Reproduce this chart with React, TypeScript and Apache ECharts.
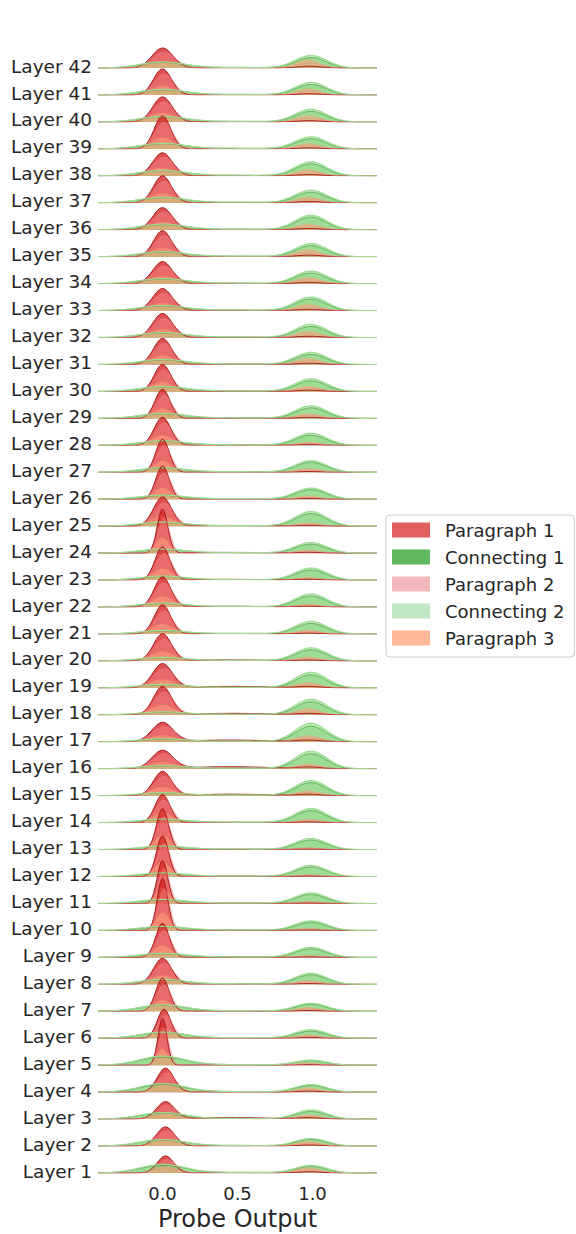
import React, { useEffect, useRef } from "react";
import * as echarts from "echarts";

// ---------- data (Layer 1 ... Layer 42), densities ----------
const layerNames = [
  "Layer 1", "Layer 2", "Layer 3", "Layer 4", "Layer 5", "Layer 6", "Layer 7",
  "Layer 8", "Layer 9", "Layer 10", "Layer 11", "Layer 12", "Layer 13", "Layer 14",
  "Layer 15", "Layer 16", "Layer 17", "Layer 18", "Layer 19", "Layer 20", "Layer 21",
  "Layer 22", "Layer 23", "Layer 24", "Layer 25", "Layer 26", "Layer 27", "Layer 28",
  "Layer 29", "Layer 30", "Layer 31", "Layer 32", "Layer 33", "Layer 34", "Layer 35",
  "Layer 36", "Layer 37", "Layer 38", "Layer 39", "Layer 40", "Layer 41", "Layer 42",
];
const seriesNames = ["Paragraph 1", "Connecting 1", "Paragraph 2", "Connecting 2", "Paragraph 3"];
const xTicks = [0, 0.5, 1.0];
const xTitle = "Probe Output";

// peak near 0.0
const para1Peak = [3.4, 3.8, 3.4, 4.8, 9.4, 5.8, 6.6, 5.2, 6.8, 10.4, 8.6, 8.2, 8.2, 5.6, 4.8, 3.6, 3.8, 5.6, 4.8, 5.4, 5.8, 6.0, 6.6, 8.8, 5.8, 6.6, 6.6, 5.6, 5.8, 5.4, 5.2, 4.8, 4.4, 4.4, 5.2, 4.4, 5.4, 4.6, 6.6, 5.0, 5.2, 4.0];
const para1Width = [0.055, 0.06, 0.06, 0.055, 0.03, 0.045, 0.045, 0.06, 0.045, 0.035, 0.035, 0.04, 0.04, 0.05, 0.06, 0.07, 0.07, 0.06, 0.065, 0.06, 0.055, 0.055, 0.05, 0.035, 0.06, 0.045, 0.045, 0.055, 0.05, 0.055, 0.06, 0.065, 0.065, 0.065, 0.06, 0.065, 0.06, 0.065, 0.055, 0.065, 0.06, 0.07];
const para1Center = [0.02, 0.02, 0.02, 0.02, 0.0, 0.01, 0.0, 0.0, 0.0, 0.0, 0.0, 0.0, 0.0, 0.0, 0.0, 0.0, 0.0, 0.0, 0.0, 0.0, 0.0, 0.0, 0.0, 0.0, 0.0, 0.0, 0.0, 0.0, 0.0, 0.0, 0.0, 0.0, 0.0, 0.0, 0.0, 0.0, 0.0, 0.0, 0.0, 0.0, 0.0, 0.0];
const para2Peak = [2.7, 3.0, 2.7, 3.8, 7.5, 4.6, 5.3, 4.2, 5.4, 8.3, 6.9, 6.6, 6.6, 4.5, 3.8, 2.9, 3.0, 4.5, 3.8, 4.3, 4.6, 4.8, 5.3, 7.0, 4.6, 5.3, 5.3, 4.5, 4.6, 4.3, 4.2, 3.8, 3.5, 3.5, 4.2, 3.5, 4.3, 3.7, 5.3, 4.0, 4.2, 3.2];
const para3Peak = [1.2, 1.3, 1.2, 1.7, 3.3, 2.0, 2.3, 1.8, 2.4, 3.6, 3.0, 2.9, 2.9, 2.0, 1.7, 1.3, 1.3, 2.0, 1.7, 1.9, 2.0, 2.1, 2.3, 3.1, 2.0, 2.3, 2.3, 2.0, 2.0, 1.9, 1.8, 1.7, 1.5, 1.5, 1.8, 1.5, 1.9, 1.6, 2.3, 1.8, 1.8, 1.4];
const conn1At0 = [1.5, 1.2, 1.2, 1.5, 1.6, 1.1, 1.2, 0.9, 0.7, 0.7, 0.7, 0.6, 0.6, 0.6, 0.5, 0.5, 0.5, 0.5, 0.6, 0.6, 0.6, 0.7, 0.7, 0.7, 0.7, 0.7, 0.8, 0.8, 0.9, 0.9, 0.9, 0.9, 0.9, 0.9, 0.9, 1.0, 1.0, 1.0, 1.0, 1.0, 1.0, 1.1];
const conn2At0 = [1.7, 1.3, 1.3, 1.7, 1.8, 1.2, 1.3, 1.0, 0.8, 0.8, 0.8, 0.7, 0.7, 0.7, 0.6, 0.6, 0.6, 0.6, 0.7, 0.7, 0.7, 0.8, 0.8, 0.8, 0.8, 0.8, 0.9, 0.9, 1.0, 1.0, 1.0, 1.0, 1.0, 1.0, 1.0, 1.1, 1.1, 1.1, 1.1, 1.1, 1.1, 1.2];

// peak near 1.0
const conn1At1 = [1.3, 1.3, 1.5, 1.3, 0.9, 1.4, 1.4, 1.9, 1.7, 1.6, 1.8, 1.9, 1.9, 2.4, 2.6, 3.0, 3.1, 2.6, 2.6, 2.2, 2.1, 2.2, 2.0, 1.8, 2.5, 1.9, 2.0, 2.0, 2.1, 2.1, 2.0, 2.2, 2.3, 2.1, 2.2, 2.5, 2.1, 2.4, 2.0, 2.1, 2.1, 2.1];
const conn2At1 = [1.5, 1.5, 1.8, 1.5, 1.0, 1.7, 1.6, 2.2, 2.0, 1.9, 2.1, 2.2, 2.2, 2.8, 3.0, 3.5, 3.7, 3.1, 3.1, 2.6, 2.5, 2.6, 2.4, 2.1, 2.9, 2.2, 2.3, 2.4, 2.5, 2.5, 2.4, 2.6, 2.7, 2.5, 2.6, 2.9, 2.5, 2.8, 2.4, 2.5, 2.5, 2.5];
const para1At1 = [0.25, 0.2, 0.25, 0.2, 0.1, 0.15, 0.15, 0.15, 0.1, 0.1, 0.1, 0.1, 0.1, 0.15, 0.25, 0.3, 0.3, 0.25, 0.25, 0.15, 0.15, 0.15, 0.15, 0.15, 0.15, 0.15, 0.15, 0.15, 0.2, 0.25, 0.25, 0.25, 0.25, 0.25, 0.3, 0.25, 0.25, 0.25, 0.2, 0.25, 0.25, 0.35];
const para2At1 = [0.7, 0.6, 0.6, 0.5, 0.3, 0.4, 0.5, 0.5, 0.3, 0.3, 0.3, 0.3, 0.3, 0.4, 0.6, 0.6, 0.8, 0.8, 0.7, 0.5, 0.5, 0.4, 0.4, 0.4, 0.4, 0.4, 0.5, 0.4, 0.6, 0.7, 0.8, 0.8, 0.8, 0.8, 0.9, 0.7, 0.7, 0.8, 0.7, 0.8, 0.8, 1.0];
const para3At1 = [1.1, 1.0, 0.9, 0.9, 0.5, 0.7, 0.8, 0.8, 0.4, 0.4, 0.4, 0.4, 0.4, 0.7, 1.0, 1.0, 1.3, 1.3, 1.1, 0.8, 0.8, 0.6, 0.6, 0.6, 0.7, 0.7, 0.8, 0.7, 1.0, 1.1, 1.3, 1.3, 1.3, 1.3, 1.5, 1.2, 1.2, 1.3, 1.1, 1.3, 1.3, 1.7];

// low plateau between the peaks
const para1Tail = [0.05, 0.05, 0.3, 0.05, 0.05, 0.05, 0.05, 0.05, 0.05, 0.05, 0.05, 0.05, 0.05, 0.05, 0.3, 0.4, 0.35, 0.3, 0.3, 0.2, 0.1, 0.15, 0.15, 0.15, 0.15, 0.05, 0.05, 0.05, 0.05, 0.05, 0.05, 0.05, 0.05, 0.05, 0.05, 0.05, 0.05, 0.05, 0.05, 0.05, 0.05, 0.05];
const connMid = [0.12, 0.12, 0.12, 0.12, 0.12, 0.12, 0.12, 0.12, 0.12, 0.12, 0.12, 0.12, 0.12, 0.12, 0.12, 0.12, 0.12, 0.12, 0.12, 0.12, 0.12, 0.12, 0.12, 0.12, 0.12, 0.12, 0.12, 0.12, 0.12, 0.12, 0.12, 0.12, 0.12, 0.12, 0.12, 0.12, 0.12, 0.12, 0.12, 0.12, 0.12, 0.12];

// ---------- layout / style ----------
const X_MIN = -0.43;
const X_MAX = 1.43;
const STEP = 0.01;
const BASE_Y1 = 1173;
const ROW = 26.95;
const GRID_H = 60;
const Y_MAX = 12;
const FONT = "DejaVu Sans";
const TEXT = "#262626";

const fills = ["#d62728", "#2ca02c", "#ff9896", "#98df8a", "#ffa37a"];
const fillOpacity = [0.8, 0.42, 0.35, 0.6, 0.55];
const lines = ["#a81c1d", "#1f7a1f", "#f08a88", "#9cdc92", "#e8a080"];
const lineWidth = [1, 0.8, 0.8, 1.2, 0.6];
const lineOpacity = [1, 0.6, 0.6, 1, 0.25];
const legendColors = ["#e05f5f", "#60b860", "#f4b9bb", "#c0e8c4", "#fdb897"];

function bump(x: number, c: number, s: number, h: number) {
  const z = (x - c) / s;
  return h * Math.exp(-0.5 * z * z);
}

function curve(li: number, si: number): number[][] {
  const pts: number[][] = [];
  const n = Math.round((X_MAX - X_MIN) / STEP);
  for (let k = 0; k <= n; k++) {
    const x = X_MIN + k * STEP;
    let y = 0;
    const c = para1Center[li];
    const w = para1Width[li];
    if (si === 0) {
      y = bump(x, c, w, para1Peak[li]) + bump(x, 0.98, 0.08, para1At1[li]) + bump(x, 0.45, 0.28, para1Tail[li]);
    } else if (si === 2) {
      y = bump(x, c + 0.01, w * 1.1, para2Peak[li]) + bump(x, 0.98, 0.08, para2At1[li]) + bump(x, 0.45, 0.28, para1Tail[li] * 0.6);
    } else if (si === 4) {
      y = bump(x, c, w * 1.3, para3Peak[li]) + bump(x, 0.97, 0.08, para3At1[li]);
    } else if (si === 1) {
      y = bump(x, 0.0, 0.15, conn1At0[li]) + bump(x, 0.99, 0.1, conn1At1[li]) + bump(x, 0.5, 0.25, connMid[li]);
    } else {
      y = bump(x, 0.0, 0.15, conn2At0[li]) + bump(x, 0.99, 0.105, conn2At1[li]) + bump(x, 0.5, 0.25, connMid[li]);
    }
    pts.push([+x.toFixed(3), y]);
  }
  return pts;
}

function buildOption() {
  const grid: any[] = [];
  const xAxis: any[] = [];
  const yAxis: any[] = [];
  const series: any[] = [];
  // draw top layer first so lower layers overlap it
  for (let gi = 0; gi < layerNames.length; gi++) {
    const li = layerNames.length - 1 - gi;
    const baseline = BASE_Y1 - li * ROW;
    grid.push({ left: 98, width: 279, top: baseline - GRID_H, height: GRID_H });
    const isBottom = li === 0;
    xAxis.push({
      type: "value",
      gridIndex: gi,
      min: X_MIN,
      max: X_MAX,
      show: true,
      axisLine: { show: false },
      axisTick: { show: false },
      splitLine: { show: false },
      axisLabel: isBottom
        ? {
            show: true,
            customValues: xTicks,
            formatter: (v: number) => v.toFixed(1),
            fontFamily: FONT,
            fontSize: 18,
            color: TEXT,
            margin: 11,
          }
        : { show: false },
      name: isBottom ? xTitle : "",
      nameLocation: "middle",
      nameGap: 34,
      nameTextStyle: { fontFamily: FONT, fontSize: 24, color: TEXT },
    });
    yAxis.push({
      type: "value",
      gridIndex: gi,
      min: 0,
      max: Y_MAX,
      interval: Y_MAX,
      axisLine: { show: false },
      axisTick: { show: false },
      splitLine: { show: false },
      axisLabel: {
        show: true,
        formatter: (v: number) => (v === 0 ? layerNames[li] : ""),
        fontFamily: FONT,
        fontSize: 18.5,
        color: TEXT,
        margin: 6,
        verticalAlign: "bottom",
        lineHeight: 4,
      },
    });
    for (let si = 0; si < seriesNames.length; si++) {
      series.push({
        type: "line",
        name: seriesNames[si],
        xAxisIndex: gi,
        yAxisIndex: gi,
        data: curve(li, si),
        showSymbol: false,
        symbol: "none",
        smooth: false,
        silent: true,
        color: fills[si],
        lineStyle: { color: lines[si], width: lineWidth[si], opacity: lineOpacity[si] },
        areaStyle: { color: fills[si], opacity: fillOpacity[si], origin: "start" },
      });
    }
  }
  return {
    animation: false,
    backgroundColor: "#ffffff",
    grid,
    xAxis,
    yAxis,
    series,
    legend: {
      orient: "vertical",
      left: 386,
      top: 515,
      width: 190,
      padding: [6, 10, 10, 6],
      itemWidth: 38,
      itemHeight: 15,
      itemGap: 9,
      icon: "rect",
      borderColor: "#cccccc",
      borderWidth: 1,
      borderRadius: 4,
      backgroundColor: "#ffffff",
      selectedMode: false,
      textStyle: { fontFamily: FONT, fontSize: 18, color: TEXT, padding: [0, 0, 0, 10] },
      data: seriesNames.map((n, i) => ({
        name: n,
        itemStyle: { color: legendColors[i], opacity: 1, borderWidth: 0 },
        lineStyle: { opacity: 0 },
      })),
    },
  };
}

export default function App() {
  const ref = useRef<HTMLDivElement>(null);
  useEffect(() => {
    if (!ref.current) return;
    const chart = echarts.init(ref.current, undefined, { renderer: "svg" });
    chart.setOption(buildOption() as any);
    return () => chart.dispose();
  }, []);
  return (
    <div
      ref={ref}
      style={{ position: "fixed", left: 0, top: 0, width: 576, height: 1234, background: "#ffffff" }}
    />
  );
}
